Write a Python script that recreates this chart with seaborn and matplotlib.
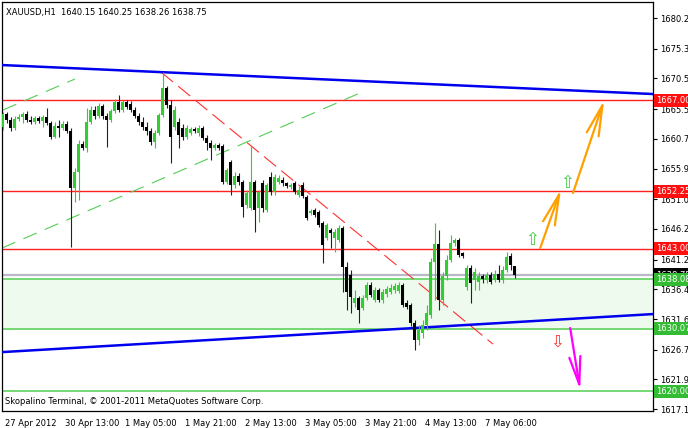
import numpy as np
import pandas as pd
import matplotlib
matplotlib.use("Agg")
import matplotlib.pyplot as plt
import matplotlib.transforms as mtransforms
import seaborn as sns

# XAUUSD H1 candles (bar 0 = 27 Apr 2012)
opens = [1662.6, 1664.7, 1663.8, 1662.5, 1663.9, 1664.3, 1664.7, 1663.8, 1663.5, 1664.1,
         1663.6, 1664.3, 1663.3, 1661.0, 1662.8, 1662.5, 1663.1, 1662.0, 1652.8, 1655.4,
         1659.9, 1659.3, 1663.5, 1665.4, 1664.4, 1666.0, 1664.4, 1663.8, 1665.2, 1666.7,
         1665.4, 1666.7, 1666.4, 1665.4, 1664.4, 1663.5, 1662.6, 1662.0, 1660.2, 1661.7,
         1664.6, 1668.9, 1666.2, 1662.6, 1663.5, 1662.5, 1661.0, 1661.7, 1662.3, 1661.7,
         1662.5, 1660.9, 1660.1, 1659.3, 1659.7, 1659.6, 1653.8, 1657.0, 1653.3, 1654.7,
         1653.8, 1650.1, 1649.6, 1653.8, 1649.6, 1653.6, 1649.2, 1654.6, 1652.2, 1653.8,
         1654.1, 1653.6, 1653.0, 1653.6, 1651.7, 1653.3, 1651.3, 1648.8, 1649.2, 1648.9,
         1647.1, 1644.7, 1646.0, 1644.7, 1644.4, 1646.3, 1640.0, 1638.8, 1634.2, 1635.0,
         1633.4, 1635.0, 1637.1, 1634.7, 1636.3, 1634.7, 1635.7, 1636.0, 1636.3, 1636.2,
         1637.1, 1634.2, 1633.9, 1631.0, 1628.3, 1629.4, 1630.7, 1632.3, 1640.8, 1643.8,
         1634.7, 1638.6, 1641.2, 1643.9, 1644.4, 1642.3, 1636.8, 1639.9, 1637.9, 1637.6,
         1638.6, 1637.9, 1638.8, 1637.9, 1638.9, 1637.9, 1639.6, 1641.8, 1640.15]
closes = [1664.7, 1663.8, 1662.5, 1663.9, 1664.3, 1664.7, 1663.8, 1663.5, 1664.1, 1663.6,
          1664.3, 1663.3, 1661.0, 1662.8, 1662.5, 1663.1, 1662.0, 1652.8, 1655.4, 1659.9,
          1659.3, 1663.5, 1665.4, 1664.4, 1666.0, 1664.4, 1663.8, 1665.2, 1666.7, 1665.4,
          1666.7, 1665.9, 1665.4, 1664.4, 1663.5, 1662.6, 1662.0, 1660.2, 1661.7, 1664.6,
          1668.9, 1666.2, 1661.0, 1665.4, 1661.4, 1661.0, 1662.5, 1662.3, 1662.0, 1662.5,
          1660.9, 1660.1, 1659.3, 1659.7, 1659.3, 1653.8, 1655.7, 1653.3, 1654.7, 1653.8,
          1649.7, 1652.0, 1653.8, 1649.2, 1652.2, 1649.6, 1653.3, 1652.2, 1654.6, 1654.4,
          1653.6, 1653.1, 1653.3, 1652.2, 1652.5, 1651.5, 1647.9, 1649.1, 1648.4, 1646.8,
          1643.6, 1646.8, 1645.5, 1645.7, 1646.3, 1640.0, 1636.0, 1635.2, 1635.0, 1633.1,
          1635.0, 1637.1, 1635.5, 1636.3, 1634.7, 1636.0, 1636.5, 1636.6, 1637.0, 1637.1,
          1633.9, 1633.6, 1631.0, 1628.3, 1629.9, 1630.7, 1632.6, 1640.8, 1643.8, 1634.7,
          1638.6, 1641.2, 1643.9, 1644.4, 1642.0, 1641.8, 1639.9, 1637.5, 1639.2, 1638.6,
          1638.1, 1638.8, 1637.6, 1638.9, 1637.9, 1639.6, 1641.7, 1640.4, 1638.75]
highs = [1665.1, 1665.1, 1664.3, 1664.4, 1664.7, 1665.1, 1665.2, 1664.4, 1664.4, 1664.4,
         1664.6, 1665.7, 1663.6, 1663.5, 1663.8, 1663.6, 1663.6, 1662.5, 1656.0, 1660.6,
         1660.4, 1665.7, 1666.0, 1666.0, 1666.5, 1666.4, 1664.9, 1665.6, 1667.2, 1667.8,
         1667.0, 1667.0, 1666.9, 1665.9, 1664.9, 1664.3, 1663.5, 1662.5, 1662.2, 1664.9,
         1671.5, 1669.3, 1667.0, 1666.0, 1664.1, 1663.1, 1663.0, 1662.6, 1662.6, 1663.0,
         1662.8, 1661.4, 1660.6, 1660.1, 1660.1, 1659.9, 1656.0, 1657.3, 1655.4, 1655.2,
         1654.1, 1652.5, 1659.7, 1654.1, 1652.5, 1654.1, 1653.6, 1655.4, 1655.1, 1654.9,
         1654.6, 1653.8, 1653.6, 1653.9, 1653.1, 1653.8, 1651.7, 1649.4, 1649.6, 1649.2,
         1647.5, 1647.1, 1646.3, 1646.2, 1646.8, 1646.7, 1640.9, 1639.6, 1636.3, 1635.4,
         1635.5, 1637.6, 1637.6, 1636.8, 1636.6, 1636.5, 1637.0, 1637.3, 1637.5, 1637.6,
         1637.5, 1634.7, 1634.2, 1631.5, 1630.7, 1631.5, 1633.9, 1641.5, 1647.1, 1646.0,
         1639.2, 1642.0, 1645.2, 1644.7, 1644.7, 1642.5, 1640.4, 1640.4, 1639.9, 1639.2,
         1639.0, 1639.2, 1639.2, 1639.6, 1640.4, 1640.2, 1642.5, 1642.3, 1640.25]
lows = [1662.2, 1663.3, 1662.0, 1662.2, 1663.6, 1663.3, 1663.5, 1663.1, 1663.1, 1663.3,
        1662.6, 1663.0, 1660.7, 1660.9, 1661.0, 1662.2, 1661.7, 1643.3, 1650.5, 1650.9,
        1658.9, 1658.6, 1663.1, 1663.9, 1664.1, 1663.9, 1659.4, 1663.5, 1664.9, 1665.1,
        1665.1, 1665.6, 1665.1, 1664.1, 1663.0, 1662.2, 1661.4, 1659.7, 1659.3, 1661.4,
        1664.3, 1665.7, 1656.8, 1662.2, 1659.3, 1660.6, 1660.7, 1661.4, 1661.7, 1661.2,
        1660.6, 1658.9, 1657.3, 1658.9, 1658.9, 1653.4, 1653.4, 1651.7, 1652.8, 1653.3,
        1648.1, 1649.6, 1649.2, 1645.7, 1647.3, 1648.9, 1648.9, 1651.7, 1651.7, 1653.4,
        1653.1, 1652.8, 1652.6, 1651.8, 1651.3, 1651.2, 1647.6, 1648.4, 1648.1, 1646.5,
        1640.7, 1644.4, 1643.1, 1642.5, 1644.1, 1636.0, 1633.1, 1632.6, 1633.6, 1631.0,
        1633.1, 1634.7, 1635.2, 1634.4, 1634.4, 1634.2, 1635.2, 1635.7, 1635.8, 1635.8,
        1633.6, 1633.3, 1630.5, 1626.6, 1627.4, 1628.6, 1629.9, 1631.8, 1634.7, 1633.1,
        1633.9, 1637.9, 1640.8, 1643.4, 1641.7, 1641.5, 1636.3, 1634.2, 1636.3, 1636.3,
        1637.5, 1637.5, 1637.3, 1637.6, 1637.6, 1637.5, 1639.2, 1639.6, 1638.26]

# time axis labels (one every 15 bars)
tick_bars = [0, 15, 30, 45, 60, 75, 90, 105, 120]
tick_texts = ["27 Apr 2012", "30 Apr 13:00", "1 May 05:00", "1 May 21:00", "2 May 13:00",
              "3 May 05:00", "3 May 21:00", "4 May 13:00", "7 May 06:00"]
price_ticks = [1680.25, 1675.30, 1670.50, 1665.55, 1660.75, 1655.95, 1651.00, 1646.20,
               1641.25, 1636.45, 1631.65, 1626.70, 1621.90, 1617.10]

# horizontal levels
red_levels = [1667.00, 1652.25, 1643.00]
green_levels = [1638.08, 1630.07, 1620.00]
bid_price = 1638.75

# trend lines (bar index, price)
upper_blue = ([-0.125, 162.6], [1672.66, 1667.98])
lower_blue = ([-0.125, 162.6], [1626.31, 1632.45])
red_dash = ([39.6, 122.6], [1671.53, 1627.60])
green_dash = ([-0.125, 89.9], [1643.11, 1668.30])
green_dash2 = ([0.125, 18.1], [1665.4, 1670.4])

# projection arrows
orange_1 = ((134.4, 1643.1), (139.6, 1652.6))
orange_2 = ((142.6, 1652.0), (150.4, 1667.0))
magenta_1 = ((141.9, 1630.2), (144.4, 1620.2))
up_marks = [(132.4, 1644.4), (141.2, 1653.6)]
down_marks = [(138.6, 1628.0)]

sns.set_style("white")
plt.rcParams["font.family"] = ["DejaVu Sans"]
fs = 6.0

df = pd.DataFrame({"bar": np.arange(len(closes)), "open": opens, "high": highs,
                   "low": lows, "close": closes})
df["up"] = df["close"] >= df["open"]

fig = plt.figure(figsize=(6.88, 4.28), dpi=100)
ax = fig.add_axes([2 / 688, 17 / 428, 651 / 688, 409 / 428])
ax.set_xlim(-0.125, 162.6)
ax.set_ylim(1616.8, 1682.84)

# green zone
ax.axhspan(green_levels[1], green_levels[0], color="#eefaee", zorder=0)

for lv in red_levels:
    ax.axhline(lv, color="#ff2020", lw=1.0, zorder=1)
for lv in green_levels:
    ax.axhline(lv, color="#5fd35f", lw=1.2, zorder=1)
ax.axhline(bid_price, color="#b8b8c8", lw=1.6, zorder=1)

sns.lineplot(x=upper_blue[0], y=upper_blue[1], ax=ax, color="#0000ee", lw=1.8, zorder=3)
sns.lineplot(x=lower_blue[0], y=lower_blue[1], ax=ax, color="#0000ee", lw=1.8, zorder=3)
ax.plot(*red_dash, color="#ff3030", lw=0.8, ls=(0, (14, 6)), zorder=2)
ax.plot(*green_dash, color="#55cc55", lw=0.8, ls=(0, (13, 8)), zorder=2)
ax.plot(*green_dash2, color="#55cc55", lw=0.8, ls=(0, (13, 8)), zorder=2)

# candles
wick_col = np.where(df["up"], "#33cc33", "#222222")
body_col = np.where(df["up"], "#33cc33", "#000000")
ax.vlines(df["bar"], df["low"], df["high"], colors=wick_col, lw=0.8, zorder=4)
body_lo = np.minimum(df["open"], df["close"])
body_h = np.maximum(np.abs(df["close"] - df["open"]), 0.15)
ax.bar(df["bar"], body_h, bottom=body_lo, width=0.72, color=body_col, lw=0, zorder=5)

# arrows
for (x0, y0), (x1, y1) in [orange_1, orange_2]:
    ax.annotate("", xy=(x1, y1), xytext=(x0, y0),
                arrowprops=dict(arrowstyle="->,head_length=2.2,head_width=0.45",
                                color="#ffa000", lw=1.6, shrinkA=0, shrinkB=0), zorder=6)
(x0, y0), (x1, y1) = magenta_1
ax.annotate("", xy=(x1, y1), xytext=(x0, y0),
            arrowprops=dict(arrowstyle="->,head_length=2.0,head_width=0.4",
                            color="#ff00ff", lw=1.6, shrinkA=0, shrinkB=0), zorder=6)
for x, y in up_marks:
    ax.text(x, y, "\u21e7", color="#44cc44", fontsize=12, ha="center", va="center", zorder=6)
for x, y in down_marks:
    ax.text(x, y, "\u21e9", color="#ff3333", fontsize=12, ha="center", va="center", zorder=6)

# axes styling
for s in ax.spines.values():
    s.set_color("black")
    s.set_linewidth(0.9)
ax.yaxis.tick_right()
ax.set_yticks(price_ticks)
ax.set_yticklabels([f"{v:.2f}" for v in price_ticks])
ax.set_xticks(tick_bars)
ax.set_xticklabels(tick_texts, ha="left")
ax.tick_params(axis="y", length=3, width=0.8, pad=2, labelsize=fs, colors="black")
ax.tick_params(axis="x", length=4, width=0.8, pad=2, labelsize=fs, colors="black")
for lab in ax.get_xticklabels():
    lab.set_transform(lab.get_transform() + mtransforms.ScaledTranslation(2 / 100, 0, fig.dpi_scale_trans))
ax.set_xlabel("")
ax.set_ylabel("")

# price boxes on the right
trans = mtransforms.blended_transform_factory(ax.transAxes, ax.transData)
boxes = [(bid_price, "#000000"), (red_levels[0], "#ff1010"), (red_levels[1], "#ff1010"),
         (red_levels[2], "#ff1010"), (green_levels[0], "#33bb33"),
         (green_levels[1], "#33bb33"), (green_levels[2], "#33bb33")]
for v, c in boxes:
    ax.text(1.004, v, f"{v:.2f}", transform=trans, color="white", fontsize=fs,
            ha="left", va="center", clip_on=False, zorder=10,
            bbox=dict(boxstyle="square,pad=0.25", fc=c, ec="none"))

ax.text(0.006, 0.985, "XAUUSD,H1  1640.15 1640.25 1638.26 1638.75", transform=ax.transAxes,
        fontsize=fs, ha="left", va="top", color="black")
ax.text(0.005, 0.012, "Skopalino Terminal, \u00a9 2001-2011 MetaQuotes Software Corp.",
        transform=ax.transAxes, fontsize=fs, ha="left", va="bottom", color="black")

fig.savefig("out.png", dpi=100)
